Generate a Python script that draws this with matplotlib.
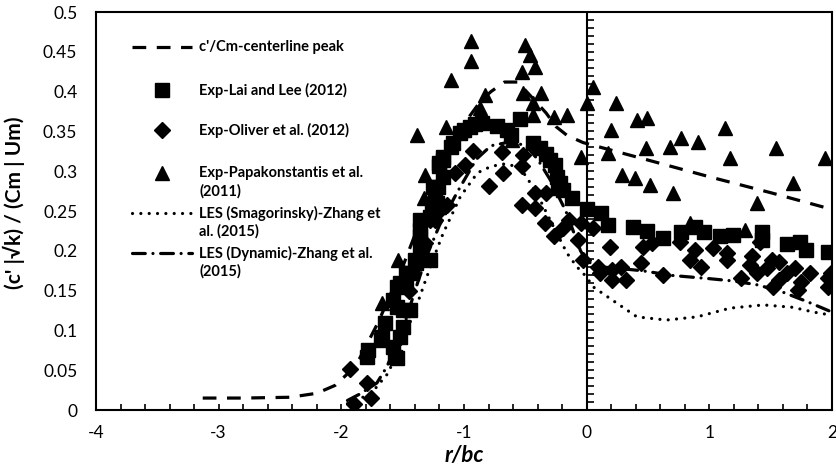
import numpy as np
import matplotlib.pyplot as plt
from matplotlib.ticker import MultipleLocator, FuncFormatter

plt.rcParams['font.family'] = ['Lato', 'DejaVu Sans']
plt.rcParams['axes.unicode_minus'] = False

# c'/Cm centerline peak (dashed)
cl_r = [-3.13, -2.8, -2.42, -2.2, -2.05, -1.96, -1.85, -1.7, -1.5, -1.3, -1.1, -0.95,
        -0.86, -0.78, -0.67, -0.56, -0.49, -0.4, -0.33, -0.25, -0.16, -0.03, 0.5, 1.0, 1.5, 2.0]
cl_y = [0.015, 0.015, 0.016, 0.021, 0.031, 0.044, 0.065, 0.11, 0.18, 0.26, 0.33, 0.37,
        0.389, 0.40, 0.412, 0.412, 0.40, 0.385, 0.373, 0.356, 0.345, 0.336, 0.314, 0.293, 0.273, 0.252]

# Exp - Lai and Lee (2012)
lai_r = [-1.79, -1.78, -1.68, -1.67, -1.64, -1.58, -1.56, -1.55, -1.52, -1.5, -1.58, -1.55,
         -1.5, -1.44, -1.55, -1.52, -1.47, -1.47, -1.42, -1.4, -1.39, -1.36, -1.28, -1.36,
         -1.36, -1.36, -1.28, -1.26, -1.24, -1.22, -1.25, -1.21, -1.17, -1.2, -1.2, -1.17,
         -1.17, -1.11, -1.09, -1.03, -1.0, -0.95, -0.91, -0.85, -0.73, -0.65, -0.62, -0.54,
         -0.44, -0.38, -0.33, -0.30, -0.26, -0.24, -0.22, -0.23, -0.19, -0.12, 0.0, 0.12,
         0.17, 0.38, 0.49, 0.62, 0.77, 0.88, 0.96, 1.09, 1.19, 1.43, 1.43, 1.63, 1.74,
         1.79, 1.97]
lai_y = [0.067, 0.075, 0.088, 0.092, 0.109, 0.079, 0.067, 0.065, 0.092, 0.104, 0.138, 0.13,
         0.126, 0.126, 0.155, 0.16, 0.16, 0.172, 0.172, 0.188, 0.185, 0.205, 0.188, 0.218,
         0.226, 0.239, 0.243, 0.255, 0.268, 0.26, 0.28, 0.28, 0.293, 0.306, 0.31, 0.314,
         0.318, 0.331, 0.335, 0.348, 0.352, 0.356, 0.359, 0.36, 0.357, 0.352, 0.345, 0.365,
         0.335, 0.329, 0.321, 0.314, 0.308, 0.293, 0.285, 0.279, 0.276, 0.266, 0.253, 0.247,
         0.232, 0.23, 0.225, 0.216, 0.224, 0.23, 0.224, 0.218, 0.22, 0.224, 0.213, 0.209, 0.211,
         0.201, 0.199]

# Exp - Oliver et al. (2012)
oli_r = [-1.93, -1.9, -1.79, -1.76, -1.45, -1.32, -1.28, -1.24, -1.2, -1.14, -1.07, -0.99,
         -0.93, -0.8, -0.69, -0.68, -0.52, -0.53, -0.53, -0.42, -0.42, -0.33, -0.34, -0.27,
         -0.19, -0.14, -0.07, -0.05, -0.03, 0.05, 0.09, 0.11, 0.19, 0.21, 0.21, 0.28, 0.32,
         0.44, 0.46, 0.53, 0.62, 0.76, 0.88, 0.84, 0.93, 1.03, 1.14, 1.14, 1.26, 1.35, 1.33,
         1.39, 1.41, 1.47, 1.51, 1.52, 1.57, 1.57, 1.63, 1.7, 1.72, 1.75, 1.82, 1.97, 1.99, 1.97]
oli_y = [0.052, 0.007, 0.034, 0.015, 0.15, 0.21, 0.239, 0.239, 0.25, 0.258, 0.298, 0.308,
         0.325, 0.282, 0.324, 0.298, 0.32, 0.306, 0.258, 0.273, 0.254, 0.273, 0.235, 0.218,
         0.229, 0.239, 0.214, 0.235, 0.188, 0.229, 0.18, 0.172, 0.205, 0.176, 0.163, 0.18, 0.163,
         0.185, 0.205, 0.21, 0.17, 0.211, 0.201, 0.188, 0.18, 0.203, 0.197, 0.188, 0.166, 0.193,
         0.182, 0.172, 0.211, 0.178, 0.188, 0.155, 0.186, 0.163, 0.172, 0.178, 0.151, 0.161,
         0.172, 0.166, 0.172, 0.155]

# Exp - Papakonstantis et al. (2011)
pap_r = [-1.67, -1.54, -1.33, -1.32, -1.38, -1.15, -1.11, -1.02, -0.94, -0.94, -0.87, -0.83,
         -0.61, -0.53, -0.52, -0.5, -0.46, -0.44, -0.44, -0.42, -0.37, -0.27, -0.16, -0.05,
         0.0, 0.05, 0.17, 0.2, 0.24, 0.29, 0.39, 0.41, 0.48, 0.49, 0.52, 0.68, 0.7, 0.77,
         0.84, 0.91, 1.13, 1.17, 1.29, 1.39, 1.54, 1.68, 1.94]
pap_y = [0.134, 0.188, 0.266, 0.295, 0.345, 0.356, 0.415, 0.352, 0.463, 0.438, 0.379, 0.396,
         0.339, 0.425, 0.398, 0.459, 0.446, 0.386, 0.371, 0.431, 0.398, 0.368, 0.371, 0.318,
         0.386, 0.406, 0.323, 0.352, 0.386, 0.295, 0.291, 0.364, 0.329, 0.367, 0.283, 0.331,
         0.273, 0.342, 0.235, 0.337, 0.354, 0.317, 0.226, 0.26, 0.329, 0.285, 0.317]

# LES (Smagorinsky) - Zhang et al. (2015)
sm_r = [-1.95, -1.85, -1.75, -1.68, -1.62, -1.55, -1.48, -1.4, -1.32, -1.25, -1.17, -1.03,
        -0.89, -0.78, -0.68, -0.56, -0.49, -0.38, -0.27, -0.16, -0.08, 0.0, 0.05, 0.21, 0.41,
        0.65, 0.9, 1.17, 1.44, 1.68, 1.85, 2.0]
sm_y = [0.008, 0.014, 0.022, 0.035, 0.046, 0.07, 0.095, 0.125, 0.16, 0.19, 0.222, 0.268,
        0.298, 0.306, 0.309, 0.306, 0.293, 0.264, 0.23, 0.197, 0.18, 0.167, 0.155, 0.138, 0.117,
        0.113, 0.117, 0.128, 0.132, 0.129, 0.123, 0.119]

# LES (Dynamic) - Zhang et al. (2015)
dy_r = [-1.95, -1.85, -1.71, -1.63, -1.5, -1.4, -1.3, -1.2, -1.05, -0.9, -0.78, -0.65, -0.5,
        -0.4, -0.3, -0.17, -0.05, 0.0, 0.1, 0.25, 0.45, 0.7, 1.0, 1.2, 1.4, 1.6, 1.8, 2.0]
dy_y = [0.012, 0.02, 0.034, 0.054, 0.1, 0.15, 0.195, 0.232, 0.275, 0.315, 0.332, 0.336, 0.333,
        0.315, 0.29, 0.25, 0.2, 0.187, 0.18, 0.178, 0.175, 0.169, 0.165, 0.162, 0.157, 0.148,
        0.136, 0.123]

legend_labels = ["c'/Cm-centerline peak", "Exp-Lai and Lee (2012)", "Exp-Oliver et al. (2012)",
                 "Exp-Papakonstantis et al.\n(2011)", "LES (Smagorinsky)-Zhang et\nal. (2015)",
                 "LES (Dynamic)-Zhang et al.\n(2015)"]

dash = (0, (4.3, 3.3))
dot = (0, (0.01, 2.6))
dashdot = (0, (4.0, 2.4, 0.01, 2.4))

fig = plt.figure(figsize=(8.36, 4.73), dpi=100)
ax = fig.add_axes([96/836, 63/473, 736/836, 398/473])

styles = [
    dict(ls=dash, lw=2.3, marker=None, dash_capstyle='butt'),
    dict(ls='none', marker='s', ms=9.8),
    dict(ls='none', marker='D', ms=8.6),
    dict(ls='none', marker='^', ms=10),
    dict(ls=dot, lw=2.3, marker=None, dash_capstyle='round'),
    dict(ls=dashdot, lw=2.3, marker=None, dash_capstyle='round'),
]
series = [(cl_r, cl_y), (lai_r, lai_y), (oli_r, oli_y), (pap_r, pap_y), (sm_r, sm_y), (dy_r, dy_y)]
for (xs, ys), st in zip(series, styles):
    ax.plot(xs, ys, color='k', **st)

# axes
ax.set_xlim(-4, 2)
ax.set_ylim(0, 0.5)
for sp in ax.spines.values():
    sp.set_linewidth(1.5)
ax.set_xticks(range(-4, 3))
ax.xaxis.set_minor_locator(MultipleLocator(0.2))
ax.tick_params(axis='x', which='both', direction='in', length=4.5, width=1.2, top=False,
               labelsize=12.5, pad=11)
ax.set_yticks(np.arange(0, 0.501, 0.05))
ax.yaxis.set_major_formatter(FuncFormatter(lambda v, p: f'{v:g}'))
ax.tick_params(axis='y', length=0, labelsize=12.5, pad=13.5)

# vertical axis crossing at r/bc = 0, with small ticks
ax.axvline(0, color='k', lw=1.5)
ytk = np.arange(0.01, 0.5, 0.01)
ax.plot(np.zeros(len(ytk)), ytk, ls='none', marker=1, ms=5, mew=1.2, color='k')

ax.set_xlabel('r/bc', fontsize=16, fontweight='bold', fontstyle='italic', labelpad=3)
ax.set_ylabel("(c' |√k) / (Cm | Um)", fontsize=15, fontweight='bold')
ax.yaxis.set_label_coords(-0.096, 0.52)

# legend, drawn Excel-like (handle aligned with first text line)
rows_y = [0.913, 0.804, 0.7035, 0.5955, 0.495, 0.3945]
step = 18.5 / 398
for lab, st, yy in zip(legend_labels, styles, rows_y):
    if st['marker'] is None:
        ax.plot([0.049, 0.1304], [yy, yy], transform=ax.transAxes, color='k', clip_on=False, **st)
    else:
        ax.plot([0.0897], [yy], transform=ax.transAxes, color='k', clip_on=False, **st)
    for i, line in enumerate(lab.split('\n')):
        ax.text(0.140, yy - i * step, line, transform=ax.transAxes, fontsize=10.5,
                fontweight='bold', va='center', ha='left')

fig.savefig('out.png', dpi=100)
